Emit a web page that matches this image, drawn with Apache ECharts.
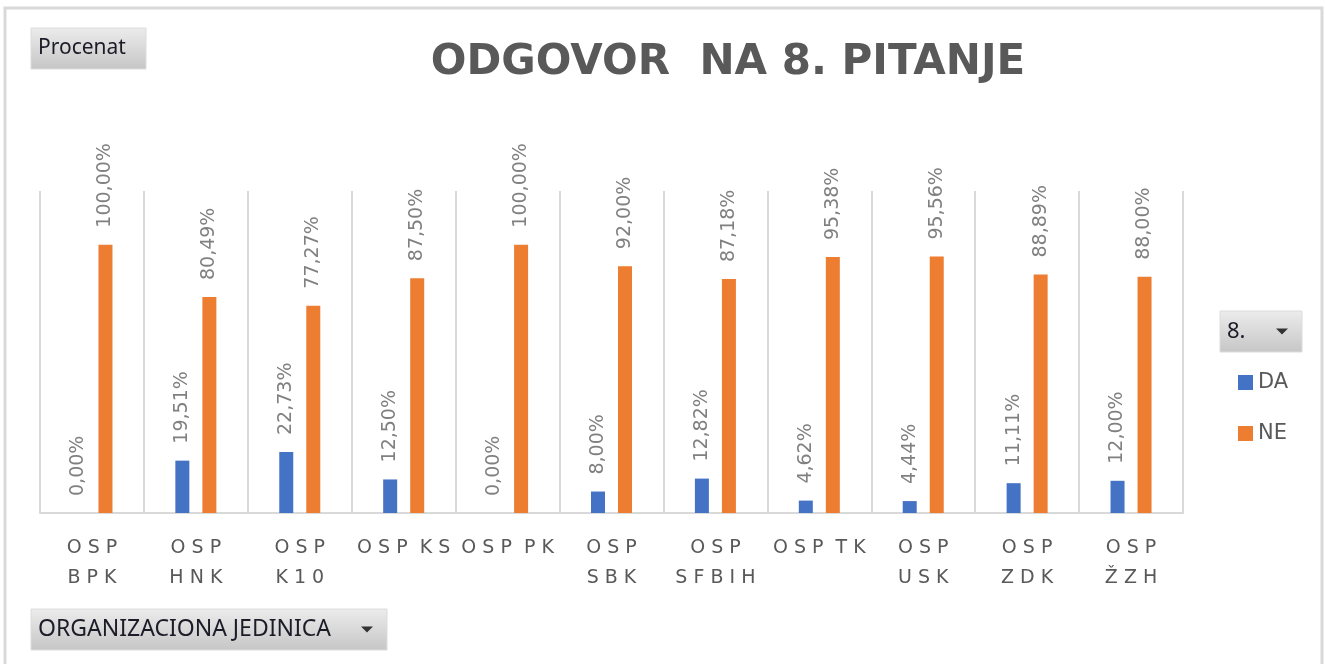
<!DOCTYPE html>
<html>
<head>
<meta charset="utf-8">
<script src="https://cdn.jsdelivr.net/npm/echarts@6/dist/echarts.min.js"></script>
<style>
  html, body { margin: 0; padding: 0; background: #fff; }
  #chart { width: 1325px; height: 664px; }
</style>
</head>
<body>
<div id="chart"></div>
<script>
// data
const categories = ['OSP BPK', 'OSP HNK', 'OSP K10', 'OSP KS', 'OSP PK', 'OSP SBK', 'OSP SFBIH', 'OSP TK', 'OSP USK', 'OSP ZDK', 'OSP ŽZH'];
const tickLabels = ['O S P\nB P K', 'O S P\nH N K', 'O S P\nK 1 0', 'O S P  K S', 'O S P  P K', 'O S P\nS B K', 'O S P\nS F B I H', 'O S P  T K', 'O S P\nU S K', 'O S P\nZ D K', 'O S P\nŽ Z H'];
const daValues = [0, 19.51, 22.73, 12.50, 0, 8.00, 12.82, 4.62, 4.44, 11.11, 12.00];
const neValues = [100, 80.49, 77.27, 87.50, 100, 92.00, 87.18, 95.38, 95.56, 88.89, 88.00];

const gridColor = '#d9d9d9';
const labelFont = 'DejaVu Sans';

const fmt = p => p.value.toFixed(2).replace('.', ',') + '%';

const barLabel = {
  show: true,
  position: 'top',
  rotate: 90,
  align: 'left',
  verticalAlign: 'middle',
  distance: 17,
  color: '#808080',
  fontFamily: labelFont,
  fontSize: 19,
  formatter: fmt
};

const btnFill = new echarts.graphic.LinearGradient(0, 0, 0, 1, [
  { offset: 0, color: '#ececec' },
  { offset: 1, color: '#c6c6c6' }
]);

// excel-style pivot buttons
function button(x, y, w, h, text, size, arrow) {
  const kids = [
    { type: 'rect', shape: { x: 0, y: 0, width: w, height: h }, style: { fill: btnFill, stroke: '#dcdcdc', lineWidth: 1 } },
    { type: 'text', x: 7, y: h / 2, style: { text: text, fill: '#1c1c28', font: size + 'px "Noto Sans"', verticalAlign: 'middle' } }
  ];
  if (arrow) {
    kids.push({ type: 'polygon', shape: { points: [[w - 26, h / 2 - 3], [w - 14, h / 2 - 3], [w - 20, h / 2 + 3]] }, style: { fill: '#333' } });
  }
  return { type: 'group', x: x, y: y, children: kids };
}

const chart = echarts.init(document.getElementById('chart'));
chart.setOption({
  backgroundColor: '#fff',
  animation: false,
  grid: { left: 40, right: 142, top: 191, bottom: 151 },
  legend: {
    data: ['DA', 'NE'],
    orient: 'vertical',
    left: 1233,
    top: 367,
    icon: 'rect',
    itemWidth: 15,
    itemHeight: 15,
    itemGap: 30,
    textStyle: { color: '#595959', fontFamily: labelFont, fontSize: 21 }
  },
  xAxis: {
    type: 'category',
    data: categories,
    axisTick: { show: false },
    axisLine: { lineStyle: { color: gridColor, width: 2 } },
    splitLine: { show: true, lineStyle: { color: gridColor, width: 2 } },
    axisLabel: {
      color: '#595959',
      fontFamily: labelFont,
      fontSize: 19,
      lineHeight: 30,
      margin: 20,
      interval: 0,
      formatter: (v, i) => tickLabels[i]
    }
  },
  yAxis: {
    type: 'value',
    min: 0,
    max: 120,
    show: false,
    splitLine: { show: false }
  },
  series: [
    { name: 'DA', type: 'bar', data: daValues, barWidth: 14, barGap: '93%', itemStyle: { color: '#4472c4' }, label: barLabel },
    { name: 'NE', type: 'bar', data: neValues, barWidth: 14, barGap: '93%', itemStyle: { color: '#ed7d31' }, label: barLabel }
  ],
  graphic: [
    { type: 'rect', shape: { x: 5, y: 8, width: 1317, height: 670 }, style: { fill: 'none', stroke: gridColor, lineWidth: 3 }, silent: true },
    { type: 'text', x: 728, y: 63, style: { text: 'ODGOVOR  NA 8. PITANJE', fill: '#595959', font: 'bold 42px "DejaVu Sans"', align: 'center', verticalAlign: 'middle' } },
    button(31, 28, 115, 41, 'Procenat', 21, false),
    button(1220, 311, 82, 41, '8.', 22, true),
    button(31, 609, 356, 41, 'ORGANIZACIONA JEDINICA', 23, true)
  ]
});
</script>
</body>
</html>
